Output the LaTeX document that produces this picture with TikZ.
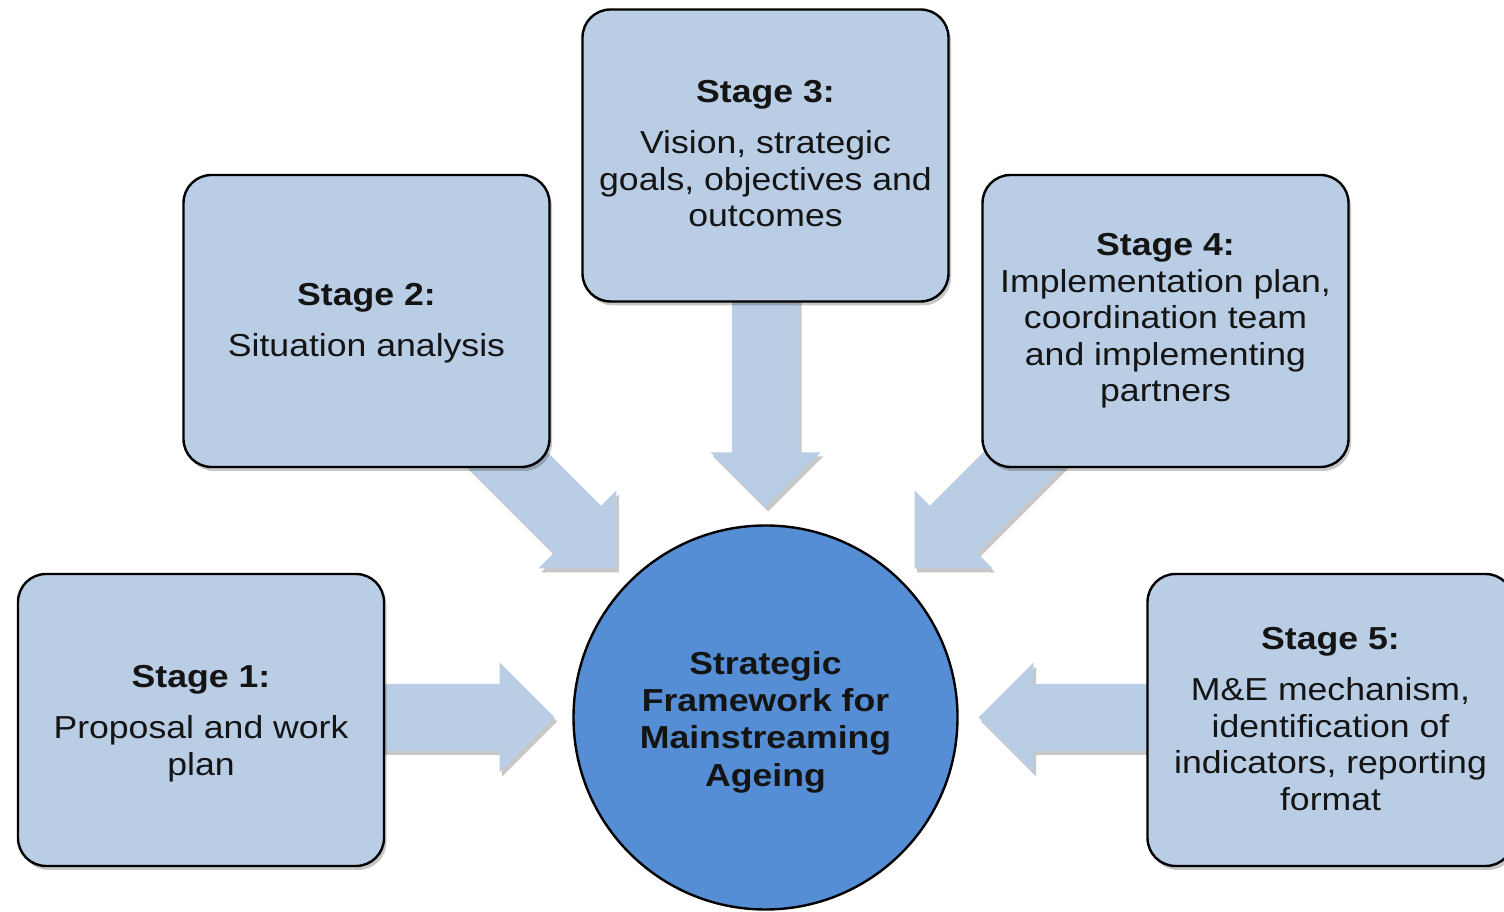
\documentclass[tikz,border=0pt]{standalone}
\usepackage{fontspec}
\setmainfont{Liberation Sans}[FakeStretch=1.12]
\usetikzlibrary{calc,shadows}
\definecolor{boxfill}{HTML}{B9CDE5}
\definecolor{hubfill}{HTML}{558ED5}
\definecolor{inktext}{HTML}{141414}
\newcommand\topstrut[1]{\rule{0pt}{#1}}
\newcommand\botstrut[1]{\rule[-#1]{0pt}{0pt}}
\begin{document}
\begin{tikzpicture}[x=1pt,y=1pt,
  softshadow/.style={drop shadow={shadow xshift=2.5pt, shadow yshift=-4pt, fill=black, opacity=0.22}},
  stagebox/.style={draw=black, line width=2.4pt, fill=boxfill, rounded corners=28pt,
    minimum width=366pt, minimum height=292pt, align=center, inner sep=0pt,
    text=inktext, font=\fontsize{31.8pt}{36.6pt}\selectfont, softshadow},
  hubnode/.style={circle, draw=black, line width=2.4pt, fill=hubfill, minimum size=384pt,
    align=center, inner sep=0pt, text=inktext, font=\fontsize{31.8pt}{37.3pt}\selectfont\bfseries},
  arrowbody/.style={fill=boxfill, softshadow},
  pics/blockarrow/.style={code={
    \path[arrowbody] (0pt,0pt) -- (-55pt,55pt) -- (-55pt,33.5pt) -- (-#1pt,33.5pt)
      -- (-#1pt,-33.5pt) -- (-55pt,-33.5pt) -- (-55pt,-55pt) -- cycle;}}
  ]
\useasboundingbox (0,0) rectangle (1504,912);

% central hub
\node[hubnode] (hub) at (765.5,194.5) {\topstrut{32pt}Strategic\\Framework for\\Mainstreaming\\Ageing};

% block arrows pointing into the hub
\coordinate (t1) at ($(hub.center)+(180:211)$);
\coordinate (t2) at ($(hub.center)+(135:211)$);
\coordinate (t3) at ($(hub.center)+(90:210)$);
\coordinate (t4) at ($(hub.center)+(45:211)$);
\coordinate (t5) at ($(hub.center)+(0:213)$);
\pic[rotate=0]    at (t1) {blockarrow=183};
\pic[rotate=-45]  at (t2) {blockarrow=196};
\pic[rotate=-90]  at (t3) {blockarrow=218};
\pic[rotate=-135] at (t4) {blockarrow=196};
\pic[rotate=180]  at (t5) {blockarrow=181};

% stage boxes
\node[stagebox] (s1) at (201,192) {\topstrut{30pt}\textbf{Stage 1:}\\[14.5pt]Proposal and work\\plan};
\node[stagebox] (s2) at (366.5,591) {\topstrut{26pt}\textbf{Stage 2:}\\[14.5pt]Situation analysis};
\node[stagebox] (s3) at (765.5,756.5) {\textbf{Stage 3:}\\[14.5pt]Vision, strategic\\goals, objectives and\\outcomes\botstrut{4pt}};
\node[stagebox] (s4) at (1165.5,591) {\textbf{Stage 4:}\\Implementation plan,\\coordination team\\and implementing\\partners};
\node[stagebox] (s5) at (1330.5,192) {\textbf{Stage 5:}\\[14.5pt]M\&E mechanism,\\identification of\\indicators, reporting\\format\botstrut{2pt}};
\end{tikzpicture}
\end{document}
